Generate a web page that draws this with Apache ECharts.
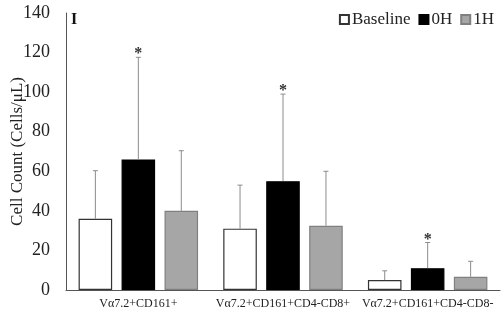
<!DOCTYPE html>
<html>
<head>
<meta charset="utf-8">
<script src="https://cdn.jsdelivr.net/npm/echarts@6/dist/echarts.min.js"></script>
<style>html,body{margin:0;padding:0;background:#fff;}#c{width:503px;height:312px;}</style>
</head>
<body>
<div id="c"></div>
<script>
var categories = ['Vα7.2+CD161+', 'Vα7.2+CD161+CD4-CD8+', 'Vα7.2+CD161+CD4-CD8-'];
var seriesNames = ['Baseline', '0H', '1H'];
var baseline = [36, 31, 5];
var h0 = [66, 55, 11];
var h1 = [40, 32.5, 6.7];
var baselineErr = [24.3, 22, 4.7];
var h0Err = [51.6, 44, 13];
var h1Err = [30.4, 27.5, 7.8];
var h0Star = [true, true, true];
var yTicks = [0, 20, 40, 60, 80, 100, 120, 140];

var values = [baseline, h0, h1];
var errs = [baselineErr, h0Err, h1Err];
var stars = [null, h0Star, null];
var fills = ['#ffffff', '#000000', '#a6a6a6'];
var borders = ['#333333', '#000000', '#808080'];
var BAR_W = 0.232, GAP = 0.28;
var FONT = '"Liberation Serif", "Times New Roman", serif';

var series = [];
for (var i = 0; i < 3; i++) {
  series.push({
    name: seriesNames[i], type: 'bar', data: values[i],
    barWidth: (BAR_W * 100) + '%', barGap: (GAP * 100) + '%',
    itemStyle: { color: fills[i], borderColor: borders[i], borderWidth: 1.2 },
    z: 2
  });
}
for (var j = 0; j < 3; j++) {
  (function (si) {
    var d = categories.map(function (c, k) { return [k, values[si][k], errs[si][k]]; });
    series.push({
      type: 'custom', z: 3, silent: true,
      data: d,
      encode: { x: 0, y: 1 },
      renderItem: function (params, api) {
        var k = api.value(0), v = api.value(1), e = api.value(2);
        var band = api.size([1, 0])[0];
        var bw = band * BAR_W;
        var off = (si - 1) * bw * (1 + GAP);
        var p0 = api.coord([k, v]);
        var p1 = api.coord([k, v + e]);
        var x = p0[0] + off;
        var children = [
          { type: 'line', shape: { x1: x, y1: p0[1], x2: x, y2: p1[1] }, style: { stroke: '#8c8c8c', lineWidth: 1 } },
          { type: 'line', shape: { x1: x - 2.5, y1: p1[1], x2: x + 2.5, y2: p1[1] }, style: { stroke: '#8c8c8c', lineWidth: 1 } }
        ];
        if (stars[si] && stars[si][k]) {
          children.push({ type: 'text', x: x, y: p1[1] + 5, style: { text: '*', font: 'bold 16px ' + FONT, fill: '#333', align: 'center', verticalAlign: 'bottom' } });
        }
        return { type: 'group', children: children };
      }
    });
  })(j);
}

var chart = echarts.init(document.getElementById('c'), null, { renderer: 'canvas' });
chart.setOption({
  animation: false,
  backgroundColor: '#fff',
  grid: { left: 66, right: 3, top: 13, bottom: 22, containLabel: false, outerBoundsMode: 'none' },
  legend: {
    data: seriesNames, right: 4, top: 6, icon: 'rect', itemWidth: 9, itemHeight: 9, itemGap: 8,
    textStyle: { fontFamily: FONT, fontSize: 17, color: '#222', padding: [0, 0, 0, -2] }
  },
  xAxis: {
    type: 'category', data: categories,
    axisLine: { lineStyle: { color: '#555', width: 1 } },
    axisTick: { show: false },
    axisLabel: { fontFamily: FONT, fontSize: 12, color: '#222', margin: 8, interval: 0 }
  },
  yAxis: {
    type: 'value', min: 0, max: 140, interval: 20,
    name: 'Cell Count (Cells/μL)', nameLocation: 'middle', nameGap: 40, nameMoveOverlap: false,
    nameTextStyle: { fontFamily: FONT, fontSize: 17, color: '#222' },
    axisLine: { show: true, lineStyle: { color: '#555', width: 1 } },
    axisTick: { show: false },
    splitLine: { show: false },
    axisLabel: { fontFamily: FONT, fontSize: 18, color: '#222', margin: 16,
      formatter: function (v) { return yTicks.indexOf(v) >= 0 ? String(v) : ''; } }
  },
  graphic: [{ type: 'text', left: 71, top: 12, style: { text: 'I', font: 'bold 16px ' + FONT, fill: '#111' } }],
  series: series
});
</script>
</body>
</html>
